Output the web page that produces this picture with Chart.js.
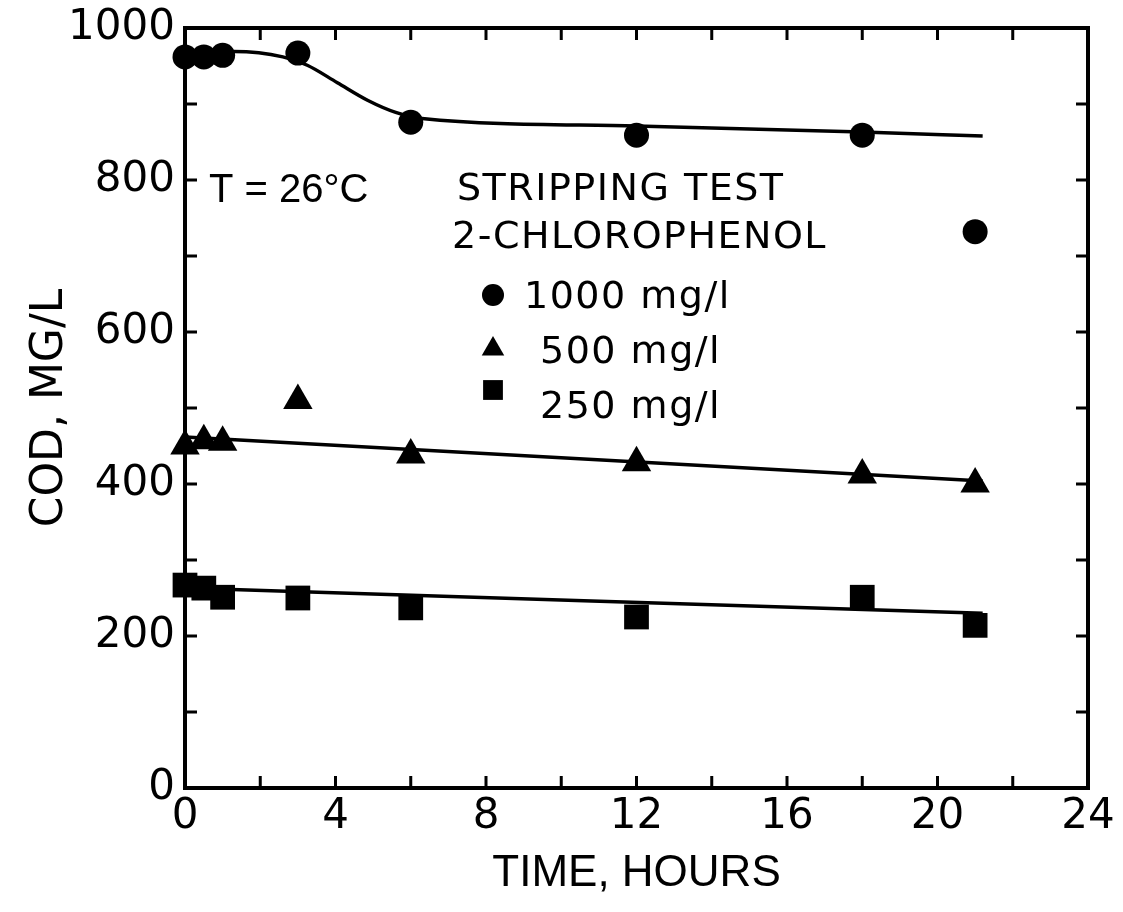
<!DOCTYPE html>
<html>
<head>
<meta charset="utf-8">
<script src="https://cdn.jsdelivr.net/npm/chart.js@4.4.0/dist/chart.umd.min.js"></script>
<style>
  html, body { margin: 0; padding: 0; background: #fff; }
  #wrap { width: 1123px; height: 912px; }
</style>
</head>
<body>
<div id="wrap"><canvas id="cod" width="1123" height="912"></canvas></div>
<script>
// measured points, hours vs COD (mg/L)
const hours1000 = [0, 0.5, 1, 3, 6, 12, 18, 21];
const cod1000 = [962, 962, 964, 967, 876, 859, 859, 732];

const hours500 = [0, 0.5, 1, 3, 6, 12, 18, 21];
const cod500 = [450, 457, 455, 510, 438, 428, 412, 400];

const hours250 = [0, 0.5, 1, 3, 6, 12, 18, 21];
const cod250 = [267, 263, 251, 250, 237, 225, 251, 214];

// hand drawn fit curves
const fitHours1000 = [0, 1.3, 2.6, 3.25, 4.05, 4.85, 5.6, 6.3, 12, 18, 21.2];
const fitCod1000 = [969, 969, 962, 951, 928, 905, 889, 881, 871, 863, 858];
const fitHours500 = [0, 21.2];
const fitCod500 = [462, 404];
const fitHours250 = [0, 21.2];
const fitCod250 = [263, 230];

const xTicks = [0, 4, 8, 12, 16, 20, 24];
const yTicks = [0, 200, 400, 600, 800, 1000];
const xMinor = [2, 4, 6, 8, 10, 12, 14, 16, 18, 20, 22];
const yMinor = [100, 200, 300, 400, 500, 600, 700, 800, 900];

const legendLabels = ['1000 mg/l', '500 mg/l', '250 mg/l'];

function pts(xs, ys) {
  return xs.map((h, i) => ({ x: h, y: ys[i] }));
}

function fitLine(xs, ys) {
  return {
    data: pts(xs, ys),
    showLine: true,
    borderColor: '#000',
    borderWidth: 3.5,
    pointRadius: 0,
    cubicInterpolationMode: 'monotone',
    clip: false,
    order: 2
  };
}

function markers(xs, ys, style, r) {
  return {
    data: pts(xs, ys),
    showLine: false,
    pointStyle: style,
    pointRadius: r,
    backgroundColor: '#000',
    borderColor: '#000',
    borderWidth: 0,
    clip: false,
    order: 1
  };
}

// frame with inward ticks on all four sides
const frame = {
  id: 'frame',
  beforeDatasetsDraw(chart) {
    const { ctx, chartArea: a, scales: { x, y } } = chart;
    ctx.save();
    ctx.strokeStyle = '#000';
    ctx.lineWidth = 4;
    ctx.strokeRect(a.left, a.top, a.right - a.left, a.bottom - a.top);
    ctx.lineWidth = 3;
    ctx.beginPath();
    xMinor.forEach(h => {
      const px = x.getPixelForValue(h);
      ctx.moveTo(px, a.bottom); ctx.lineTo(px, a.bottom - 12);
      ctx.moveTo(px, a.top); ctx.lineTo(px, a.top + 12);
    });
    yMinor.forEach(v => {
      const py = y.getPixelForValue(v);
      ctx.moveTo(a.left, py); ctx.lineTo(a.left + 12, py);
      ctx.moveTo(a.right, py); ctx.lineTo(a.right - 12, py);
    });
    ctx.stroke();
    ctx.restore();
  }
};

// text notes and the little legend inside the plot
const notes = {
  id: 'notes',
  afterDraw(chart) {
    const ctx = chart.ctx;
    ctx.save();
    ctx.fillStyle = '#000';
    ctx.textBaseline = 'alphabetic';
    ctx.textAlign = 'left';

    ctx.font = '40px "Liberation Sans"';
    ctx.fillText('T = 26°C', 209, 202);

    ctx.font = '38px "DejaVu Sans"';
    ctx.letterSpacing = '1.5px';
    ctx.fillText('STRIPPING TEST', 457, 200);
    ctx.fillText('2-CHLOROPHENOL', 452, 248);
    ctx.fillText(legendLabels[0], 524, 308);
    ctx.fillText(legendLabels[1], 540, 363);
    ctx.fillText(legendLabels[2], 540, 418);
    ctx.letterSpacing = '0px';

    const drawPoint = Chart.helpers.drawPoint;
    ctx.fillStyle = '#000';
    ctx.strokeStyle = '#000';
    ctx.lineWidth = 0;
    drawPoint(ctx, { pointStyle: 'circle', radius: 11, borderWidth: 0 }, 493, 295);
    drawPoint(ctx, { pointStyle: 'triangle', radius: 13, borderWidth: 0 }, 493, 349);
    drawPoint(ctx, { pointStyle: 'rect', radius: 14, borderWidth: 0 }, 493, 390);
    ctx.restore();
  }
};

const tickFont = { family: 'DejaVu Sans', size: 42 };

new Chart(document.getElementById('cod'), {
  type: 'scatter',
  data: {
    datasets: [
      fitLine(fitHours1000, fitCod1000),
      fitLine(fitHours500, fitCod500),
      fitLine(fitHours250, fitCod250),
      markers(hours1000, cod1000, 'circle', 12.5),
      markers(hours500, cod500, 'triangle', 17),
      markers(hours250, cod250, 'rect', 17.5)
    ]
  },
  options: {
    responsive: false,
    animation: false,
    events: [],
    layout: { padding: { top: 28, right: 35, left: 0, bottom: 0 } },
    plugins: {
      legend: { display: false },
      tooltip: { enabled: false }
    },
    scales: {
      x: {
        type: 'linear',
        min: 0,
        max: 24,
        grid: { display: false, drawTicks: false },
        border: { display: false },
        afterBuildTicks: s => { s.ticks = xTicks.map(v => ({ value: v })); },
        afterFit: s => { s.height = 124; s.paddingLeft = 0; s.paddingRight = 0; },
        ticks: { color: '#000', font: tickFont, padding: 4, autoSkip: false, maxRotation: 0,
                 callback: v => String(v) },
        title: {
          display: true,
          text: 'TIME, HOURS',
          color: '#000',
          font: { family: 'Liberation Sans', size: 44 },
          padding: { top: 0, bottom: 12 }
        }
      },
      y: {
        type: 'linear',
        min: 0,
        max: 1000,
        grid: { display: false, drawTicks: false },
        border: { display: false },
        afterBuildTicks: s => { s.ticks = yTicks.map(v => ({ value: v })); },
        afterFit: s => { s.width = 185; s.paddingTop = 0; s.paddingBottom = 0; },
        ticks: { color: '#000', font: tickFont, padding: 10, autoSkip: false,
                 callback: v => String(v) },
        title: {
          display: true,
          text: 'COD, MG/L',
          color: '#000',
          font: { family: 'DejaVu Sans', size: 44 },
          padding: { top: 24, bottom: 0 }
        }
      }
    }
  },
  plugins: [frame, notes]
});
</script>
</body>
</html>
